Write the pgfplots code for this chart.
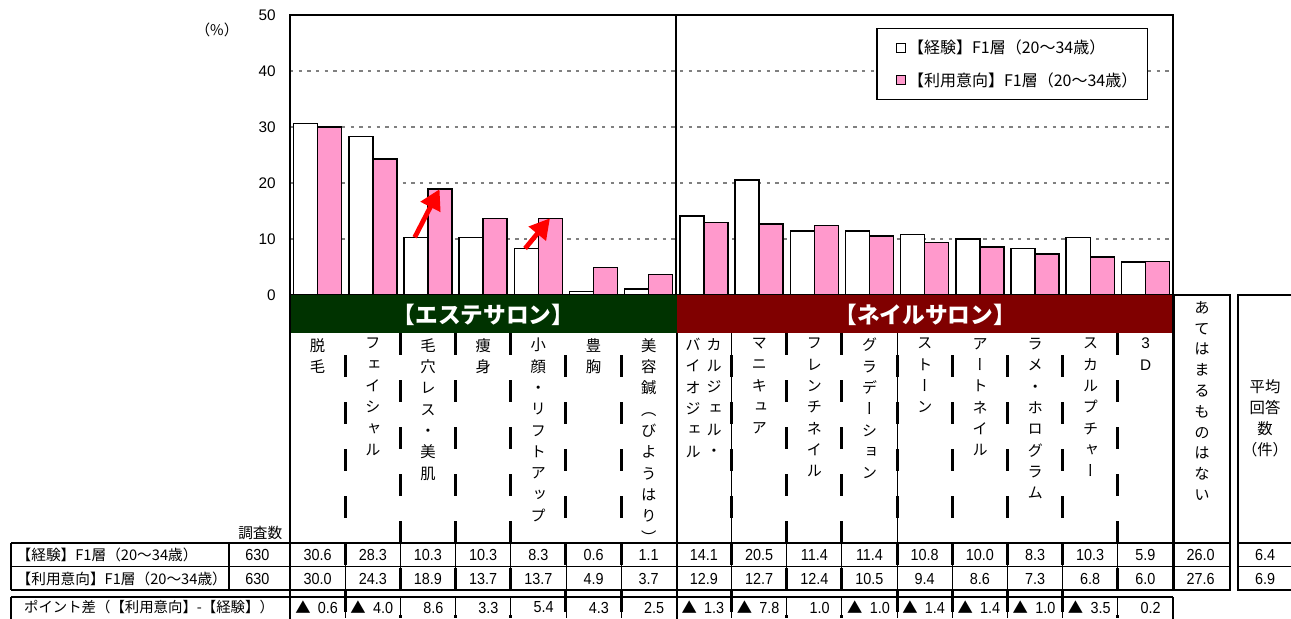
\documentclass[border=0pt]{standalone}
\usepackage{fontspec}
\usepackage{pgfplots}
\usepackage{pgfplotstable}
\pgfplotsset{compat=1.18}
\usetikzlibrary{arrows.meta}
\setmainfont{Liberation Sans}
\newfontfamily\jp{Noto Sans CJK JP}
\newfontfamily\jpv[RawFeature=+vert]{Noto Sans CJK JP}
\newfontfamily\narrow[FakeStretch=0.9]{Liberation Sans}
\definecolor{barpink}{RGB}{255,153,204}
\definecolor{esgreen}{RGB}{0,51,0}
\definecolor{nailred}{RGB}{128,0,0}
\newcommand\fs[2]{\fontsize{#1}{#2}\selectfont}

% 0-6 esthe salon, 7-15 nail salon
\pgfplotstableread{
idx keiken riyou
0  30.6 30.0
1  28.3 24.3
2  10.3 18.9
3  10.3 13.7
4  8.3  13.7
5  0.6  4.9
6  1.1  3.7
7  14.1 12.9
8  20.5 12.7
9  11.4 12.4
10 11.4 10.5
11 10.8 9.4
12 10.0 8.6
13 8.3  7.3
14 10.3 6.8
15 5.9  6.0
}\datatable

\begin{document}
\begin{tikzpicture}
\begin{axis}[
    at={(217.5pt,-221.25pt)}, anchor=south west,
    scale only axis, width=662.25pt, height=210pt,
    xmin=-0.5, xmax=15.5, ymin=0, ymax=50,
    ybar=0pt, bar width=18pt,
    xtick=\empty, ytick={0,10,20,30,40,50},
    major tick length=0pt,
    ymajorgrids, grid style={gray, line width=1pt, dash pattern=on 2.5pt off 4pt},
    axis line style={line width=1.5pt},
    /pgf/number format/assume math mode=true,
    yticklabel style={font=\fs{11.5}{12}, inner sep=0pt, xshift=-10.5pt},
    every axis plot post/.append style={
        legend image code/.code={\path (-8pt,0pt); \draw[##1, line width=0.6pt] (0pt,-3.5pt) rectangle (7pt,3.5pt);}},
    legend style={at={(0.9717,0.9536)}, anchor=north east, draw=black, line width=1pt,
        font=\jp\fs{12}{13}, row sep=8.5pt, inner xsep=6pt, inner ysep=6.5pt,
        nodes={inner xsep=1.5pt}, cells={anchor=west}},
]
\addplot[fill=white, draw=black, line width=1.1pt] table[x=idx, y=keiken] {\datatable};
\addplot[fill=barpink, draw=black, line width=1.1pt] table[x=idx, y=riyou] {\datatable};
\legend{【経験】F1層（20～34歳）, 【利用意向】F1層（20～34歳）}
\draw[line width=1.5pt] (axis cs:6.5,0) -- (axis cs:6.5,50);
\draw[red, line width=3.6pt, -{Triangle[length=15pt, width=16pt]}] (axis cs:1.76,10.3) -- (axis cs:2.21,18.9);
\draw[red, line width=3.6pt, -{Triangle[length=15pt, width=16pt]}] (axis cs:3.76,8.3) -- (axis cs:4.21,13.7);
\end{axis}

\begin{scope}[x=0.75pt, y=-0.75pt]
\def\cw{55.1875}
\node[font=\jp\fs{11}{12}] at (217,30) {（\%）};
% category bands
\fill[esgreen] (290,295) rectangle (677,333);
\fill[nailred] (677,295) rectangle (1173,333);
\node[text=white, font=\jp\bfseries\fs{17}{18}] at (483.5,314.5) {【エステサロン】};
\node[text=white, font=\jp\bfseries\fs{17}{18}] at (925,314.5) {【ネイルサロン】};
% column separators
\foreach \i/\ph in {1/18.75,2/0,3/0,4/0,5/18.75,6/18.75,8/18.75,9/0,10/0,11/18.75,12/18.75,13/18.75,14/18.75,15/0} {
  \draw[line width=2.2pt, dash pattern=on 16.5pt off 18.75pt, dash phase=\ph pt] ({290+\cw*\i},333) -- ({290+\cw*\i},618);
  \draw[line width=0.6pt] ({290+\cw*\i},543) -- ({290+\cw*\i},589);
  \draw[line width=0.6pt] ({290+\cw*\i},597) -- ({290+\cw*\i},618);
}
\draw[line width=0.6pt] ({290+\cw*8},333) -- ({290+\cw*8},543);
\draw[line width=0.6pt] ({290+\cw*11},333) -- ({290+\cw*11},543);
\draw[line width=1.5pt] (290,295) -- (290,620);
\draw[line width=1.5pt] (677,333) -- (677,620);
\draw[line width=1.5pt] (1173,295) -- (1173,590);
\draw[line width=1.5pt] (1173,597) -- (1173,620);
% vertical category labels
\tikzset{vlab/.style={anchor=north, inner sep=0pt, align=center, font=\jpv\fs{11.5}{16}}}
\node[vlab] at (317.6,338) {脱\\毛};
\node[vlab] at (372.8,338) {フ\\ェ\\イ\\シ\\ャ\\ル};
\node[vlab] at (428.0,338) {毛\\穴\\レ\\ス\\・\\美\\肌};
\node[vlab] at (483.2,338) {痩\\身};
\node[vlab] at (538.4,338) {小\\顔\\・\\リ\\フ\\ト\\ア\\ッ\\プ};
\node[vlab] at (593.6,338) {豊\\胸};
\node[vlab] at (648.8,338) {美\\容\\鍼\\（\\び\\よ\\う\\は\\り\\）};
\node[vlab] at (714.0,338) {カ\\ル\\ジ\\ェ\\ル\\・};
\node[vlab] at (693.0,338) {バ\\イ\\オ\\ジ\\ェ\\ル};
\node[vlab] at (759.2,338) {マ\\ニ\\キ\\ュ\\ア};
\node[vlab] at (814.4,338) {フ\\レ\\ン\\チ\\ネ\\イ\\ル};
\node[vlab] at (869.6,338) {グ\\ラ\\デ\\ー\\シ\\ョ\\ン};
\node[vlab] at (924.8,338) {ス\\ト\\ー\\ン};
\node[vlab] at (980.0,338) {ア\\ー\\ト\\ネ\\イ\\ル};
\node[vlab] at (1035.2,338) {ラ\\メ\\・\\ホ\\ロ\\グ\\ラ\\ム};
\node[vlab] at (1090.4,338) {ス\\カ\\ル\\プ\\チ\\ャ\\ー};
\node[vlab, font=\fs{11.5}{16}] at (1145.6,338) {3\\D};
\node[vlab, font=\jpv\fs{11.5}{15.6}] at (1202,301) {あ\\て\\は\\ま\\る\\も\\の\\は\\な\\い};
\node[align=center, inner sep=0pt, font=\jp\fs{11.5}{15.75}] at (1265,418.5) {平均\\回答\\数\\（件）};
% side boxes
\draw[line width=1.5pt] (1174,295) rectangle (1230,590);
\draw[line width=1.5pt] (1238,295) rectangle (1296,590);
\draw[line width=0.8pt] (1174,543) -- (1230,543) (1238,543) -- (1296,543);
\draw[line width=0.8pt] (1174,566.5) -- (1230,566.5) (1238,566.5) -- (1296,566.5);
% table
\node[anchor=east, font=\jp\fs{11}{12}] at (287,533) {調査数};
\draw[line width=1.5pt] (11,543) -- (1173,543);
\draw[line width=1.1pt] (11,566.5) -- (1173,566.5);
\draw[line width=2pt] (11,590) -- (1173,590);
\draw[line width=1.5pt] (11,543) -- (11,590) (229,543) -- (229,590);
\draw[line width=1.5pt] (11,597) -- (1173,597) (11,597) -- (11,620);
\node[anchor=west, font=\jp\fs{11}{12}] at (12,554.5) {【経験】F1層（20～34歳）};
\node[anchor=west, font=\jp\fs{11}{12}] at (12,578.5) {【利用意向】F1層（20～34歳）};
\node[font=\jp\fs{10.8}{12}] at (149,607.5) {ポイント差（【利用意向】-【経験】）};
\node[anchor=east, font=\narrow\fs{12}{12}] at (274,555) {630};
\node[anchor=east, font=\narrow\fs{12}{12}] at (274,578.5) {630};
\foreach \v [count=\i from 0] in {30.6,28.3,10.3,10.3,8.3,0.6,1.1,14.1,20.5,11.4,11.4,10.8,10.0,8.3,10.3,5.9,26.0}
  \node[font=\narrow\fs{12}{12}] at ({290+\cw*(\i+0.5)},555) {\v};
\foreach \v [count=\i from 0] in {30.0,24.3,18.9,13.7,13.7,4.9,3.7,12.9,12.7,12.4,10.5,9.4,8.6,7.3,6.8,6.0,27.6}
  \node[font=\narrow\fs{12}{12}] at ({290+\cw*(\i+0.5)},578.5) {\v};
\node[font=\narrow\fs{12}{12}] at (1265,555) {6.4};
\node[font=\narrow\fs{12}{12}] at (1265,578.5) {6.9};
\foreach \t/\v [count=\i from 0] in {1/0.6,1/4.0,0/8.6,0/3.3,0/5.4,0/4.3,0/2.5,1/1.3,1/7.8,0/1.0,1/1.0,1/1.4,1/1.4,1/1.0,1/3.5,0/0.2} {
  \ifnum\t=1
    \node[anchor=west, inner sep=0pt, font=\jp\fs{11.5}{12}] at ({290+\cw*\i+5},607.5) {▲};
    \node[anchor=east, inner sep=0pt, font=\narrow\fs{12}{12}] at ({290+\cw*(\i+1)-7},607.5) {\v};
  \else
    \node[anchor=east, inner sep=0pt, font=\narrow\fs{12}{12}] at ({290+\cw*(\i+1)-12},607.5) {\v};
  \fi
}
\pgfresetboundingbox
\path[use as bounding box] (0,0) rectangle (1291,618);
\end{scope}
\end{tikzpicture}
\end{document}
